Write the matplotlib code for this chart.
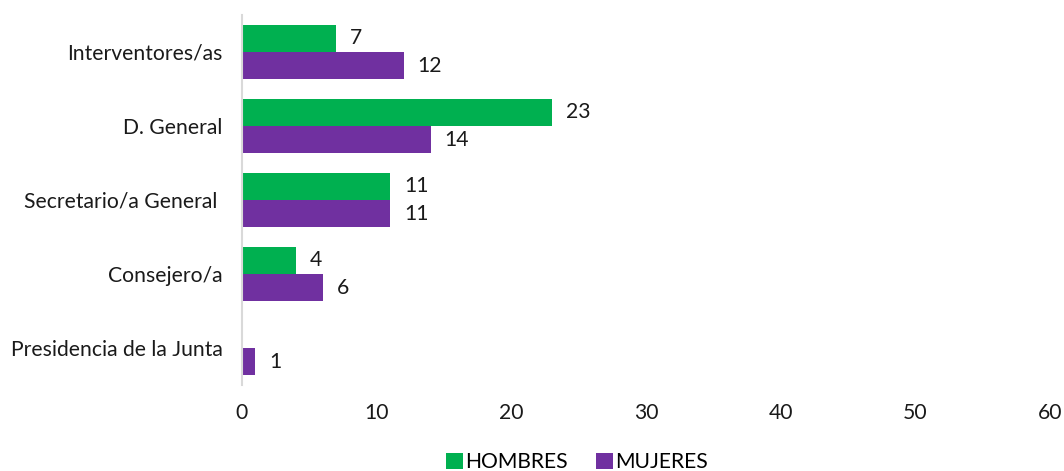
import matplotlib.pyplot as plt
import numpy as np

categories = ["Interventores/as", "D. General", "Secretario/a General ", "Consejero/a",
              "Presidencia de la Junta"]
hombres = [7, 23, 11, 4, 0]
mujeres = [12, 14, 11, 6, 1]

GREEN = "#00B050"
PURPLE = "#7030A0"
FS = 15.2

plt.rcParams['font.family'] = ['Lato', 'DejaVu Sans']

fig = plt.figure(figsize=(10.64, 4.71), dpi=100)
ax = fig.add_axes([242 / 1064, 1 - 385 / 471, (1050 - 242) / 1064, 370 / 471])

y = np.arange(len(categories))
h = 0.37
ax.barh(y - h / 2, hombres, height=h, color=GREEN, label="HOMBRES")
ax.barh(y + h / 2, mujeres, height=h, color=PURPLE, label="MUJERES")

# value labels next to each bar, skip empty ones
for yi, v in zip(y, hombres):
    if v > 0:
        ax.annotate(str(v), (v, yi - h / 2), xytext=(10, 0), textcoords="offset points",
                    va="center", ha="left", fontsize=FS, color="#1a1a1a")
for yi, v in zip(y, mujeres):
    if v > 0:
        ax.annotate(str(v), (v, yi + h / 2), xytext=(10, 0), textcoords="offset points",
                    va="center", ha="left", fontsize=FS, color="#1a1a1a")

ax.set_xlim(0, 60)
ax.set_ylim(len(categories) - 0.5, -0.5)
ax.set_xticks(range(0, 61, 10))
ax.set_yticks(y)
ax.set_yticklabels(categories)
ax.tick_params(axis="both", length=0, labelsize=FS, colors="#1a1a1a")
ax.tick_params(axis="x", pad=13)
ax.tick_params(axis="y", pad=14)

for s in ["top", "right", "bottom"]:
    ax.spines[s].set_visible(False)
ax.spines["left"].set_color("#d9d9d9")
ax.spines["left"].set_linewidth(1.5)

fig.legend(loc="center", bbox_to_anchor=(577 / 1064, 1 - 462 / 471), ncol=2, frameon=False,
           fontsize=FS, handlelength=0.8, handleheight=0.8, handletextpad=0.12,
           columnspacing=1.3)

fig.savefig("out.png", dpi=100)
